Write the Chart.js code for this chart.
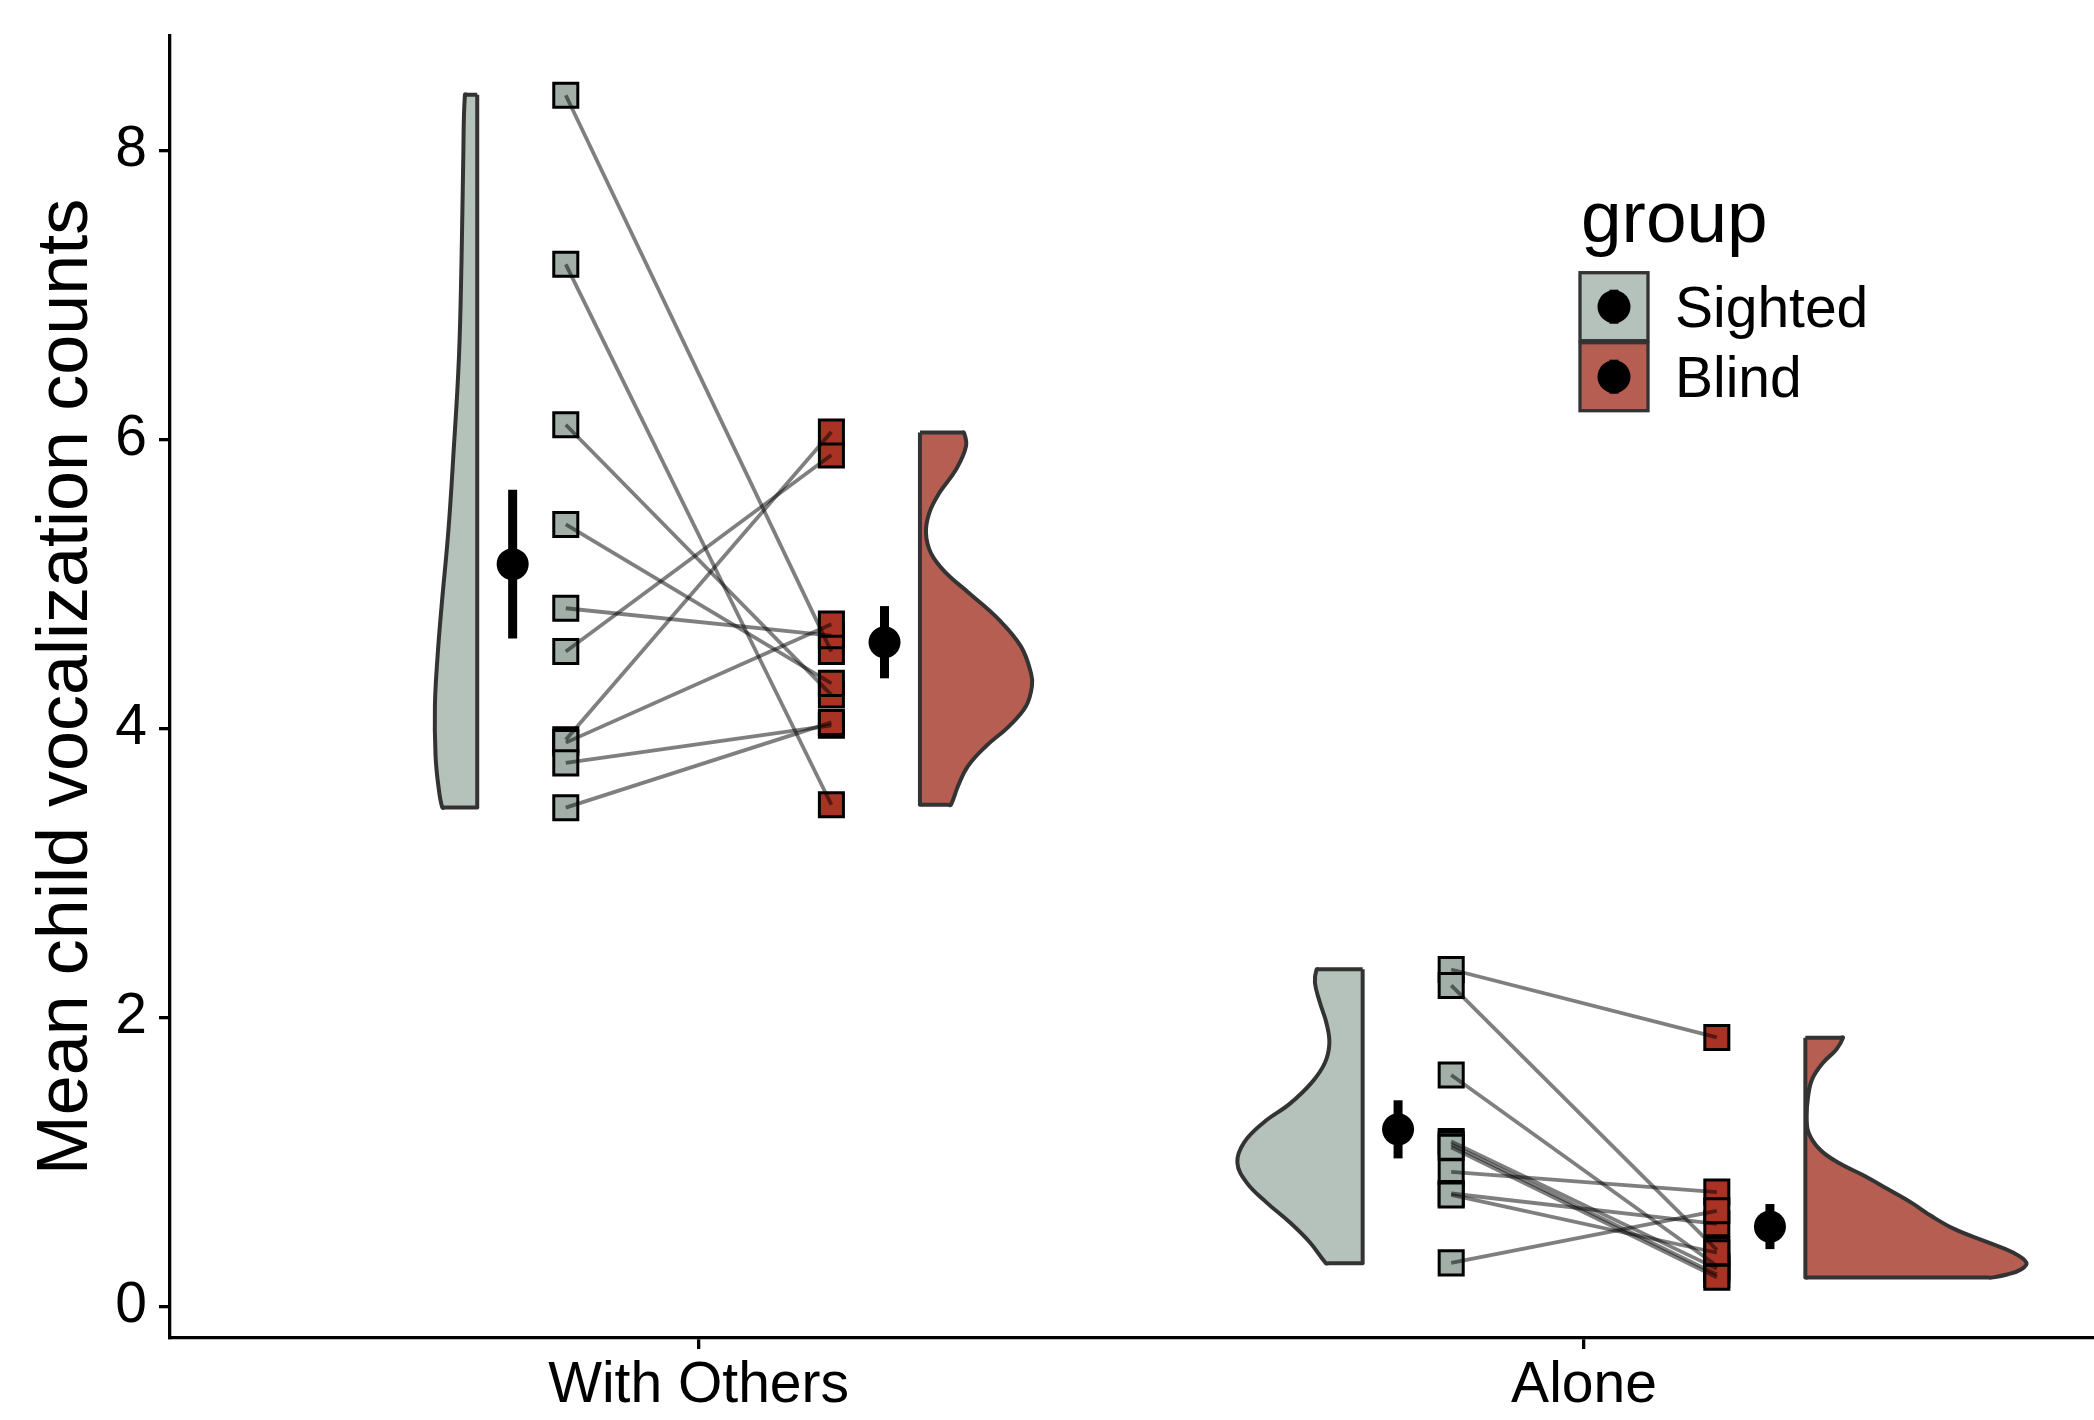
<!DOCTYPE html>
<html>
<head>
<meta charset="utf-8">
<title>Child vocalizations by setting and group</title>
<script src="https://cdn.jsdelivr.net/npm/chart.js@4.4.1/dist/chart.umd.min.js"></script>
<style>
  html, body { margin: 0; padding: 0; background: #ffffff; overflow: hidden; }
  #wrap { width: 2094px; height: 1420px; }
  canvas { display: block; }
</style>
</head>
<body>
<div id="wrap"><canvas id="chart" width="2094" height="1420"></canvas></div>
<script>
// ---- data ----------------------------------------------------------------
const conditions = ['With Others', 'Alone'];
const groups = ['Sighted', 'Blind'];
const yTicks = [0, 2, 4, 6, 8];

// per-child mean counts; index i of the sighted list is paired with index i of the blind list
const sightedWithOthers = [8.38, 7.21, 6.10, 5.41, 4.83, 4.53, 3.92, 3.90, 3.76, 3.45];
const blindWithOthers   = [4.53, 3.47, 4.23, 4.31, 4.64, 5.89, 6.05, 4.72, 4.02, 4.04];
const sightedAlone      = [2.33, 2.22, 1.60, 1.14, 1.12, 1.10, 0.93, 0.78, 0.77, 0.30];
const blindAlone        = [1.86, 0.39, 0.28, 0.26, 0.22, 0.20, 0.79, 0.57, 0.37, 0.66];

// group means and standard errors, one entry per condition
const sightedMean = [5.135, 1.224];
const sightedSE   = [0.515, 0.201];
const blindMean   = [4.595, 0.551];
const blindSE     = [0.250, 0.156];

// half-violin density outlines: value along y, and density width in category units
const sightedWithOthersDensityY = [8.384, 7.936, 7.249, 6.562, 5.874, 5.358, 4.843, 4.499, 4.156, 3.812, 3.606, 3.451];
const sightedWithOthersDensityW = [0.0139, 0.0158, 0.0177, 0.0207, 0.0271, 0.0327, 0.0403, 0.0448, 0.0478, 0.0471, 0.0440, 0.0395];
const blindWithOthersDensityY = [6.046, 5.95, 5.79, 5.627, 5.489, 5.351, 5.212, 5.074, 4.936, 4.751, 4.566, 4.382, 4.290, 4.151, 4.013, 3.875, 3.737, 3.598, 3.470];
const blindWithOthersDensityW = [0.0497, 0.0520, 0.0407, 0.0218, 0.0105, 0.0068, 0.0124, 0.0294, 0.0553, 0.0892, 0.1140, 0.1254, 0.1265, 0.1197, 0.1005, 0.0745, 0.0542, 0.0429, 0.0350];
const sightedAloneDensityY = [2.331, 2.239, 2.100, 1.955, 1.817, 1.685, 1.547, 1.402, 1.270, 1.132, 0.994, 0.855, 0.717, 0.579, 0.441, 0.297];
const sightedAloneDensityW = [0.0520, 0.0539, 0.0482, 0.0407, 0.0376, 0.0426, 0.0576, 0.0821, 0.1121, 0.1340, 0.1415, 0.1310, 0.1084, 0.0821, 0.0595, 0.0414];
const blindAloneDensityY = [1.858, 1.777, 1.685, 1.570, 1.447, 1.316, 1.201, 1.086, 0.994, 0.901, 0.809, 0.717, 0.624, 0.533, 0.441, 0.371, 0.302, 0.256, 0.221, 0.198];
const blindAloneDensityW = [0.0426, 0.0350, 0.0200, 0.0076, 0.0030, 0.0015, 0.0037, 0.0161, 0.0369, 0.0670, 0.0934, 0.1197, 0.1423, 0.1686, 0.2063, 0.2346, 0.2496, 0.2439, 0.2289, 0.2100];

// ---- styling ---------------------------------------------------------------
const FONT = "'Liberation Sans', Arial, Helvetica, sans-serif";
const violinFill = ['#b5c2bb', '#b75e52'];
const pointFill = ['#a2afa9', '#a83325'];
const OUTLINE = '#333333';

// horizontal placement of each layer relative to the condition position
const POINT_GAP = 0.15;
const MEAN_GAP = 0.21;
const VIOLIN_GAP = 0.25;

Chart.defaults.font.family = FONT;
Chart.defaults.color = '#000000';

// ---- builders ----------------------------------------------------------------
// Closed outline of a half violin. Short guide points next to each corner keep
// the straight top, bottom and base edges from bowing under the spline tension.
function violinOutline(center, side, ys, ws) {
  const base = center + side * VIOLIN_GAP;
  const n = ys.length;
  const top = ys[0];
  const bottom = ys[n - 1];
  const dx = 0.003;
  const dy = 0.004;
  const pts = [{ x: base, y: top }];
  pts.push({ x: base + side * dx, y: top });
  pts.push({ x: base + side * (ws[0] - dx), y: top });
  ys.forEach((y, i) => pts.push({ x: base + side * ws[i], y: y }));
  pts.push({ x: base + side * (ws[n - 1] - dx), y: bottom });
  pts.push({ x: base + side * dx, y: bottom });
  pts.push({ x: base, y: bottom });
  pts.push({ x: base, y: bottom + dy });
  pts.push({ x: base, y: (top + bottom) / 2 });
  pts.push({ x: base, y: top - dy });
  pts.push({ x: base, y: top });
  return pts;
}

function violinDataset(center, side, ys, ws, fill) {
  return {
    type: 'line',
    data: violinOutline(center, side, ys, ws),
    borderColor: OUTLINE,
    borderWidth: 4,
    backgroundColor: fill,
    fill: 'shape',
    tension: 0.4,
    pointRadius: 0,
    borderJoinStyle: 'round',
    order: 5
  };
}

function pointsDataset(center, side, values, color) {
  return {
    type: 'scatter',
    data: values.map(v => ({ x: center + side * POINT_GAP, y: v })),
    pointStyle: 'rect',
    pointRadius: 17,
    pointBorderWidth: 3,
    pointBorderColor: '#000000',
    pointBackgroundColor: color,
    order: 4
  };
}

function pairLines(center, left, right) {
  return left.map((v, i) => ({
    type: 'line',
    data: [{ x: center - POINT_GAP, y: v }, { x: center + POINT_GAP, y: right[i] }],
    borderColor: 'rgba(0,0,0,0.5)',
    borderWidth: 3.8,
    pointRadius: 0,
    tension: 0,
    order: 3
  }));
}

function errorBar(center, side, mean, se) {
  return {
    type: 'line',
    data: [{ x: center + side * MEAN_GAP, y: mean - se }, { x: center + side * MEAN_GAP, y: mean + se }],
    borderColor: '#000000',
    borderWidth: 9,
    borderCapStyle: 'butt',
    pointRadius: 0,
    order: 2
  };
}

function meanDataset(center, side, mean) {
  return {
    type: 'scatter',
    data: [{ x: center + side * MEAN_GAP, y: mean }],
    pointStyle: 'circle',
    pointRadius: 16,
    pointBorderWidth: 0,
    pointBackgroundColor: '#000000',
    order: 1
  };
}

const conditionData = [
  { s: sightedWithOthers, b: blindWithOthers,
    sv: [sightedWithOthersDensityY, sightedWithOthersDensityW],
    bv: [blindWithOthersDensityY, blindWithOthersDensityW] },
  { s: sightedAlone, b: blindAlone,
    sv: [sightedAloneDensityY, sightedAloneDensityW],
    bv: [blindAloneDensityY, blindAloneDensityW] }
];

const datasets = [];
conditionData.forEach((c, k) => {
  const pos = k + 1;
  datasets.push(violinDataset(pos, -1, c.sv[0], c.sv[1], violinFill[0]));
  datasets.push(violinDataset(pos, 1, c.bv[0], c.bv[1], violinFill[1]));
  datasets.push(pointsDataset(pos, -1, c.s, pointFill[0]));
  datasets.push(pointsDataset(pos, 1, c.b, pointFill[1]));
  datasets.push(...pairLines(pos, c.s, c.b));
  datasets.push(errorBar(pos, -1, sightedMean[k], sightedSE[k]));
  datasets.push(errorBar(pos, 1, blindMean[k], blindSE[k]));
  datasets.push(meanDataset(pos, -1, sightedMean[k]));
  datasets.push(meanDataset(pos, 1, blindMean[k]));
});

// ---- legend ----------------------------------------------------------------
const groupLegend = {
  id: 'groupLegend',
  afterDraw(chart) {
    const ctx = chart.ctx;
    const left = 1580, keySize = 68, firstTop = 272.7, step = 70;
    ctx.save();
    ctx.fillStyle = '#000000';
    ctx.textBaseline = 'alphabetic';
    ctx.textAlign = 'left';
    ctx.font = '73px ' + FONT;
    ctx.fillText('group', left + 1, 242);
    groups.forEach((g, i) => {
      const top = firstTop + i * step;
      ctx.fillStyle = violinFill[i];
      ctx.fillRect(left, top, keySize, keySize);
      ctx.lineWidth = 3.3;
      ctx.strokeStyle = OUTLINE;
      ctx.strokeRect(left, top, keySize, keySize);
      ctx.fillStyle = '#000000';
      ctx.beginPath();
      ctx.arc(left + keySize / 2, top + keySize / 2, 16.5, 0, Math.PI * 2);
      ctx.fill();
      ctx.fillRect(left + keySize / 2 - 4.5, top + keySize / 2 - 17, 9, 34);
      ctx.font = '57px ' + FONT;
      ctx.fillText(g, 1675, top + 54);
    });
    ctx.restore();
  }
};

// ---- chart -----------------------------------------------------------------
new Chart(document.getElementById('chart'), {
  type: 'scatter',
  data: { datasets },
  options: {
    responsive: false,
    animation: false,
    events: [],
    devicePixelRatio: 1,
    layout: { autoPadding: false, padding: { top: 36, right: 0, bottom: 0, left: 0 } },
    plugins: { legend: { display: false }, tooltip: { enabled: false } },
    scales: {
      x: {
        type: 'linear',
        min: 0.403,
        max: 2.576,
        afterBuildTicks: (scale) => { scale.ticks = conditions.map((_, i) => ({ value: i + 1 })); },
        afterFit: (scale) => {
          scale.height = 82;
          scale.paddingLeft = 0;
          scale.paddingRight = 0;
        },
        ticks: {
          callback: (v) => conditions[Math.round(v) - 1],
          font: { size: 57 },
          color: '#000000',
          padding: 3,
          maxRotation: 0,
          autoSkip: false
        },
        grid: { drawOnChartArea: false, drawTicks: true, tickLength: 11, color: '#000000', lineWidth: 3.3 },
        border: { display: true, color: '#000000', width: 3.3 }
      },
      y: {
        type: 'linear',
        min: -0.22,
        max: 8.79,
        afterBuildTicks: (scale) => { scale.ticks = yTicks.map(v => ({ value: v })); },
        afterFit: (scale) => {
          scale.width = 170;
          scale.paddingTop = 0;
          scale.paddingBottom = 0;
        },
        ticks: { font: { size: 57 }, color: '#000000', padding: 12 },
        grid: { drawOnChartArea: false, drawTicks: true, tickLength: 11, color: '#000000', lineWidth: 3.3 },
        border: { display: true, color: '#000000', width: 3.3 },
        title: {
          display: true,
          text: 'Mean child vocalization counts',
          font: { size: 72 },
          color: '#000000',
          padding: { top: 24, bottom: 0 }
        }
      }
    }
  },
  plugins: [groupLegend]
});
</script>
</body>
</html>
